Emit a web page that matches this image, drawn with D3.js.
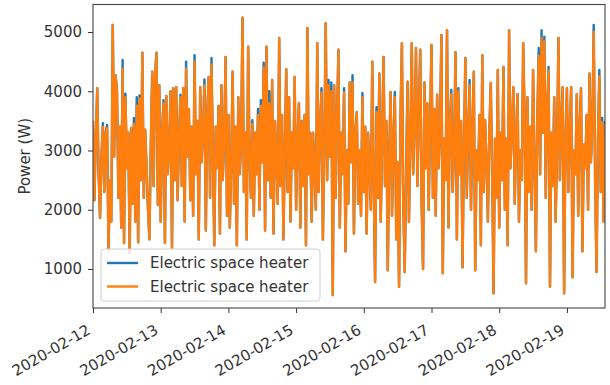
<!DOCTYPE html>
<html>
<head>
<meta charset="utf-8">
<script src="https://cdn.jsdelivr.net/npm/d3@7"></script>
<style>
  body { margin: 0; background: #fff; }
  svg { display: block; font-family: "DejaVu Sans", sans-serif; }
</style>
</head>
<body>
<div id="chart"></div>
<script>
// readings every 30 minutes, starting 2020-02-12 00:00
const startTime = new Date(2020, 1, 12, 0, 0);
const stepMinutes = 30;

// first "Electric space heater" series (blue, drawn underneath)
const heaterBlue = [
  3500,2160,3200,4050,2600,1860,2900,3460,2300,3300,
  3430,1320,2500,1800,5120,2900,4270,4020,2200,3400,
  1700,4530,1440,3960,2700,3300,1270,3380,2100,3550,
  1800,3900,1450,3930,2500,4650,2200,3350,2700,2000,
  1500,3100,4330,2400,4280,4650,2080,4100,
  1800,3300,3850,1440,3920,2600,3000,4000,1350,4050,
  2500,4070,2160,3200,3940,2400,4050,1800,4500,2900,
  3700,2160,3400,1900,4610,2600,3500,1500,4070,2800,
  3300,4200,1650,3600,4240,2200,4560,2900,1400,3400,
  2700,3750,1600,4100,2500,3200,4580,1900,
  3600,1700,2800,4330,2100,3400,1400,3900,2600,3100,
  5240,2300,3300,1500,4750,2900,2200,3510,1900,3300,
  2600,3700,2000,3850,2800,4480,1650,4750,2500,4000,
  2200,4190,1600,3500,2900,2100,4900,2400,3600,1500,
  3000,4370,2300,3900,1800,3300,2700,4240,
  2000,3200,3800,1700,3500,2400,3600,1400,5070,2600,
  3300,1800,3300,2700,2000,4810,2300,3400,4050,1500,
  3100,5150,2500,4190,2900,4150,560,4100,2200,3500,
  4700,1700,3300,2600,4050,1300,3000,2100,4150,2800,
  4270,1600,3300,3650,2100,3000,1900,3970,
  2300,3400,1600,3300,2700,2000,4500,2500,780,3730,
  2200,4300,1800,3200,4580,2400,3500,980,2900,3990,
  1900,3200,3990,1500,2800,700,3550,4810,2100,950,
  2600,4160,1800,3200,4810,2600,3400,4730,2400,3600,
  4700,2100,1000,4150,2700,3800,2000,3500,
  4780,2200,3700,1900,3940,2700,3300,4950,930,3200,
  2500,5030,1700,3400,4020,2300,3000,4660,1500,4050,
  2600,3500,1030,3100,4560,2200,3300,4190,2000,3400,
  4330,980,3000,2500,3600,1400,4610,2300,3510,2800,
  1800,3300,4140,2600,590,3200,2200,4360,
  1700,3300,2500,4410,2000,3200,1400,5030,2700,3400,
  4070,2100,3300,3950,1800,3000,2500,4810,3600,760,
  3900,2300,3400,2000,4360,2800,1300,3500,4730,2600,
  5030,3300,4920,2200,3700,4410,700,3300,2400,3900,
  1800,3000,4900,2500,3500,4070,590,3200,
  4050,2300,3300,4070,860,3000,2600,3950,1900,3400,
  4050,1300,3100,2700,3600,2000,4300,2800,3400,5120,
  2500,950,3200,4360,2300,3550,1800,3500
];

// second "Electric space heater" series (orange, drawn on top)
const heaterOrange = [
  3500,2160,3200,4050,2600,1860,2900,3400,2300,3300,
  3380,1320,2500,1800,5120,2900,4270,4020,2200,3400,
  1700,4380,1440,3900,2700,3300,1270,3380,2100,3450,
  1800,3760,1450,3880,2500,4650,2200,3350,2700,2000,
  1500,3100,4330,2400,4280,4650,2080,4100,
  1800,3300,3800,1440,3920,2600,3000,4000,1350,4050,
  2500,4070,2160,3200,3900,2400,4050,1800,4380,2900,
  3700,2160,3400,1900,4500,2600,3500,1500,4070,2800,
  3300,4100,1650,3600,4240,2200,4450,2900,1400,3400,
  2700,3750,1600,4100,2500,3200,4580,1900,
  3600,1700,2800,4330,2100,3400,1400,3900,2600,3100,
  5240,2300,3300,1500,4750,2900,2200,3450,1900,3300,
  2600,3600,2000,3750,2800,4400,1650,4750,2500,3800,
  2200,4190,1600,3500,2900,2100,4900,2400,3600,1500,
  3000,4370,2300,3900,1800,3300,2700,4240,
  2000,3200,3800,1700,3500,2400,3600,1400,5070,2600,
  3300,1800,3300,2700,2000,4810,2300,3400,3980,1500,
  3100,5150,2500,4100,2900,4000,560,4100,2200,3500,
  4700,1700,3300,2600,3980,1300,3000,2100,4150,2800,
  4150,1600,3300,3650,2100,3000,1900,3900,
  2300,3400,1600,3300,2700,2000,4500,2500,780,3650,
  2200,4300,1800,3200,4580,2400,3500,980,2900,3990,
  1900,3200,3900,1500,2800,700,3550,4810,2100,950,
  2600,4160,1800,3200,4810,2600,3400,4730,2400,3600,
  4700,2100,1000,4150,2700,3800,2000,3500,
  4780,2200,3700,1900,3940,2700,3300,4950,930,3200,
  2500,5030,1700,3400,3950,2300,3000,4660,1500,4000,
  2600,3500,1030,3100,4560,2200,3300,4100,2000,3400,
  4330,980,3000,2500,3600,1400,4610,2300,3510,2800,
  1800,3300,4140,2600,590,3200,2200,4360,
  1700,3300,2500,4410,2000,3200,1400,5030,2700,3400,
  4070,2100,3300,3950,1800,3000,2500,4810,3600,760,
  3900,2300,3400,2000,4360,2800,1300,3500,4600,2600,
  4900,3300,4850,2200,3700,4350,700,3300,2400,3900,
  1800,3000,4900,2500,3500,4070,590,3200,
  4050,2300,3300,4070,860,3000,2600,3950,1900,3400,
  4050,1300,3100,2700,3600,2000,4300,2800,3400,5000,
  2500,950,3200,4250,2300,3480,1800,3450
];

const yTicks = [1000, 2000, 3000, 4000, 5000];
const dayTicks = ["2020-02-12", "2020-02-13", "2020-02-14", "2020-02-15",
                  "2020-02-16", "2020-02-17", "2020-02-18", "2020-02-19"];
const seriesNames = ["Electric space heater", "Electric space heater"];
const yDomain = [342, 5464];

const width = 610, height = 385;
const margin = { top: 4.5, right: 5, bottom: 77, left: 93 };
const colors = ["#1f77b4", "#ff7f0e"];
const fontSize = "15px";

const times = heaterOrange.map((_, i) => new Date(startTime.getTime() + i * stepMinutes * 60000));

const svg = d3.select("#chart").append("svg")
  .attr("width", width)
  .attr("height", height);

const x = d3.scaleTime()
  .domain([times[0], times[times.length - 1]])
  .range([margin.left, width - margin.right]);

const y = d3.scaleLinear()
  .domain(yDomain)
  .range([height - margin.bottom, margin.top]);

svg.append("clipPath").attr("id", "plot-clip")
  .append("rect")
  .attr("x", margin.left).attr("y", margin.top)
  .attr("width", width - margin.left - margin.right)
  .attr("height", height - margin.top - margin.bottom);

const line = d3.line()
  .x((d, i) => x(times[i]))
  .y(d => y(d));

// blue first, orange over it
[heaterBlue, heaterOrange].forEach((series, k) => {
  svg.append("path")
    .datum(series)
    .attr("clip-path", "url(#plot-clip)")
    .attr("fill", "none")
    .attr("stroke", colors[k])
    .attr("stroke-width", 2.4)
    .attr("stroke-linejoin", "round")
    .attr("d", line);
});

// y axis
const yAxis = svg.append("g")
  .attr("transform", `translate(${margin.left},0)`)
  .call(d3.axisLeft(y).tickValues(yTicks).tickSize(5).tickPadding(6).tickFormat(d3.format("d")));

// x axis
const parseDay = d3.timeParse("%Y-%m-%d");
const xAxis = svg.append("g")
  .attr("transform", `translate(0,${height - margin.bottom})`)
  .call(d3.axisBottom(x).tickValues(dayTicks.map(parseDay)).tickSize(5)
    .tickFormat(d3.timeFormat("%Y-%m-%d")));

xAxis.selectAll("text")
  .attr("y", 0)
  .attr("dy", 0)
  .attr("text-anchor", "end")
  .attr("transform", "translate(-2,25) rotate(-30)");

[xAxis, yAxis].forEach(g => {
  g.select(".domain").remove();
  g.selectAll("line").attr("stroke", "#333").attr("stroke-width", 1);
  g.selectAll("text")
    .style("font-family", "DejaVu Sans, sans-serif")
    .style("font-size", fontSize)
    .attr("fill", "#333");
});

// frame
svg.append("rect")
  .attr("x", margin.left).attr("y", margin.top)
  .attr("width", width - margin.left - margin.right)
  .attr("height", height - margin.top - margin.bottom)
  .attr("fill", "none")
  .attr("stroke", "#444")
  .attr("stroke-width", 1.1);

// y label
svg.append("text")
  .attr("transform", `translate(30,${(margin.top + height - margin.bottom) / 2}) rotate(-90)`)
  .attr("text-anchor", "middle")
  .style("font-size", fontSize)
  .attr("fill", "#333")
  .text("Power (W)");

// legend
const legend = svg.append("g").attr("transform", "translate(101,249)");
legend.append("rect")
  .attr("width", 219).attr("height", 52)
  .attr("rx", 3)
  .attr("fill", "white").attr("fill-opacity", 0.8)
  .attr("stroke", "#d0d0d0");
seriesNames.forEach((name, k) => {
  const row = legend.append("g").attr("transform", `translate(0,${14 + k * 23.5})`);
  row.append("line")
    .attr("x1", 6).attr("x2", 37)
    .attr("stroke", colors[k]).attr("stroke-width", 2.4);
  row.append("text")
    .attr("x", 49).attr("dy", "0.35em")
    .style("font-size", fontSize)
    .attr("fill", "#333")
    .text(name);
});
</script>
</body>
</html>
